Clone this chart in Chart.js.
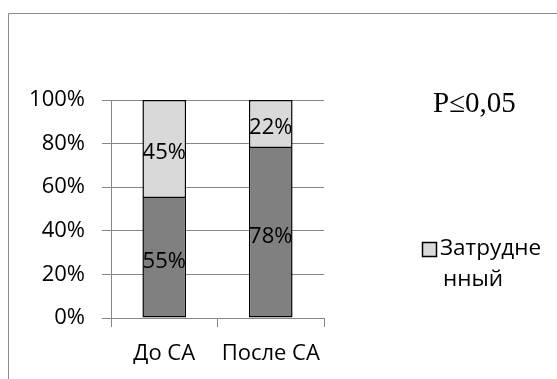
<!DOCTYPE html>
<html>
<head>
<meta charset="utf-8">
<script src="https://cdn.jsdelivr.net/npm/chart.js@4/dist/chart.umd.min.js"></script>
<style>
  html, body { margin: 0; padding: 0; background: #fff; }
  #wrap { width: 557px; height: 379px; position: relative; }
</style>
</head>
<body>
<div id="wrap"><canvas id="c" width="557" height="379"></canvas></div>
<script>
const categories = ['До СА', 'После СА'];
const easyValues = [55, 78];        // lower (dark) part of each column
const hardValues = [45, 22];        // upper (light) part: "Затрудненный"
const yTicks = [0, 20, 40, 60, 80, 100];
const legendLines = ['Затрудне', 'нный'];
const noteText = 'P≤0,05';

const FONT = "'Open Sans', sans-serif";
const GRID = '#868686';

// frame, significance note and wrapped legend
const decor = {
  id: 'decor',
  afterDraw(chart) {
    const ctx = chart.ctx;
    ctx.save();
    ctx.strokeStyle = '#8c8c8c';
    ctx.lineWidth = 1;
    ctx.beginPath();
    ctx.moveTo(8.5, 379);
    ctx.lineTo(8.5, 13.5);
    ctx.lineTo(557, 13.5);
    ctx.stroke();

    ctx.fillStyle = '#000';
    ctx.font = "29px 'Liberation Serif', serif";
    ctx.textBaseline = 'alphabetic';
    ctx.textAlign = 'left';
    ctx.fillText(noteText, 433, 112);

    // legend
    ctx.fillStyle = '#d9d9d9';
    ctx.fillRect(422.5, 242.5, 14, 14);
    ctx.strokeStyle = '#000';
    ctx.lineWidth = 1.5;
    ctx.strokeRect(422.5, 242.5, 14, 14);
    ctx.fillStyle = '#000';
    ctx.font = '22.5px ' + FONT;
    ctx.textBaseline = 'middle';
    ctx.fillText(legendLines[0], 440, 249);
    ctx.fillText(legendLines[1], 443, 280);
    ctx.restore();
  }
};

// percentage labels centred in each bar segment
const segLabels = {
  id: 'segLabels',
  afterDatasetsDraw(chart) {
    const ctx = chart.ctx;
    ctx.save();
    ctx.fillStyle = '#000';
    ctx.font = '22px ' + FONT;
    ctx.textAlign = 'center';
    ctx.textBaseline = 'middle';
    chart.data.datasets.forEach((ds, i) => {
      chart.getDatasetMeta(i).data.forEach((bar, j) => {
        const y = (bar.y + bar.base) / 2 + 4;
        ctx.fillText(ds.data[j] + '%', bar.x, y);
      });
    });
    ctx.restore();
  }
};

new Chart(document.getElementById('c'), {
  type: 'bar',
  data: {
    labels: categories,
    datasets: [
      { label: 'Легкий', data: easyValues, backgroundColor: '#808080', borderColor: '#000', borderWidth: 1.5, borderSkipped: 'end' },
      { label: 'Затрудненный', data: hardValues, backgroundColor: '#d9d9d9', borderColor: '#000', borderWidth: 1.5, borderSkipped: false }
    ]
  },
  options: {
    responsive: false,
    animation: false,
    layout: { padding: { left: 0, top: 100, right: 233, bottom: 0 } },
    plugins: { legend: { display: false }, tooltip: { enabled: false } },
    datasets: { bar: { barPercentage: 0.41, categoryPercentage: 1 } },
    scales: {
      x: {
        stacked: true,
        offset: true,
        grid: { offset: true, drawOnChartArea: false, color: GRID, tickLength: 9 },
        border: { color: GRID, width: 1 },
        ticks: { color: '#000', font: { family: FONT, size: 22 }, padding: 14 },
        afterFit(s) { s.height = 61; }
      },
      y: {
        stacked: true,
        min: 0, max: 100,
        afterBuildTicks(s) { s.ticks = yTicks.map(v => ({ value: v })); },
        grid: { color: GRID, tickLength: 9 },
        border: { color: GRID, width: 1 },
        ticks: { color: '#000', font: { family: FONT, size: 22 }, padding: 17, callback: v => v + '%' },
        afterFit(s) { s.width = 111; }
      }
    }
  },
  plugins: [segLabels, decor]
});
</script>
</body>
</html>
